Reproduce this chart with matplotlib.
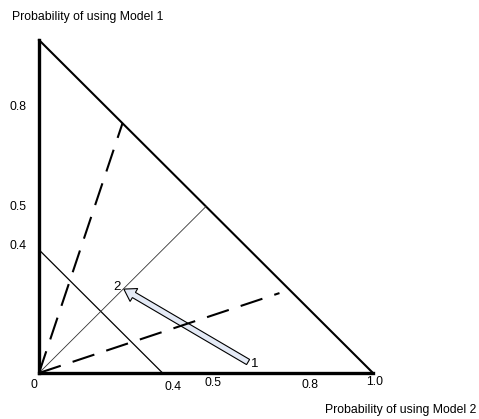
import numpy as np
import matplotlib.pyplot as plt

plt.rcParams['font.family'] = ['Liberation Sans', 'DejaVu Sans']

# triangle (probability simplex for two models)
tri_x = [0, 0, 1, 0]
tri_y = [0, 1, 0, 0]

# guide lines
iso_x = [0, 0.37]      # thin solid line
iso_y = [0.37, 0]
diag_x = [0, 0.5]      # dotted diagonal
diag_y = [0, 0.5]
dash1_x = [0, 0.25]
dash1_y = [0, 0.75]
dash2_x = [0, 0.72]
dash2_y = [0, 0.24]

# arrow from point 1 to point 2
p1 = (0.626, 0.033)
p2 = (0.254, 0.252)

ytick_vals = [0.8, 0.5, 0.38]
ytick_labels = ['0.8', '0.5', '0.4']
xtick_vals = [-0.015, 0.4, 0.52, 0.81, 1.005]
xtick_labels = ['0', '0.4', '0.5', '0.8', '1.0']
xtick_off = [-0.036, -0.042, -0.03, -0.036, -0.028]

fig = plt.figure(figsize=(4.79, 4.19), dpi=100)
ax = fig.add_axes([0, 0, 1, 1])
ax.set_xlim(-39 / 334, 440 / 334)
ax.set_ylim(-46 / 333, 373 / 333)
ax.axis('off')

# edges of the triangle
ax.plot(tri_x[:2], tri_y[:2], color='black', lw=2.4, solid_capstyle='projecting')
ax.plot(tri_x[2:], tri_y[2:], color='black', lw=2.4, solid_capstyle='projecting')
ax.plot(tri_x[1:3], tri_y[1:3], color='black', lw=1.5)

ax.plot(iso_x, iso_y, color='black', lw=0.9)
ax.plot(diag_x, diag_y, color='#333333', lw=0.6)
ax.plot(dash1_x, dash1_y, color='black', lw=1.5, dashes=(11, 6))
ax.plot(dash2_x, dash2_y, color='black', lw=1.5, dashes=(11, 6))

ax.arrow(p1[0], p1[1], p2[0] - p1[0], p2[1] - p1[1], width=0.018,
         head_width=0.045, head_length=0.035, length_includes_head=True,
         fc='#e4eaf6', ec='black', lw=0.8)
ax.text(p1[0] + 0.01, p1[1] - 0.005, '1', fontsize=9.5, va='center', ha='left')
ax.text(p2[0] - 0.008, p2[1] + 0.005, '2', fontsize=9.5, va='center', ha='right')

for v, lab in zip(ytick_vals, ytick_labels):
    ax.text(-0.088, v, lab, fontsize=8.8, va='center', ha='left')
for v, lab, o in zip(xtick_vals, xtick_labels, xtick_off):
    ax.text(v, o, lab, fontsize=8.8, va='center', ha='center')

ax.text(-0.08, 1.07, 'Probability of using Model 1', fontsize=8.8, va='center', ha='left')
ax.text(0.855, -0.11, 'Probability of using Model 2', fontsize=8.8, va='center', ha='left')

fig.savefig('out.png', dpi=100)
